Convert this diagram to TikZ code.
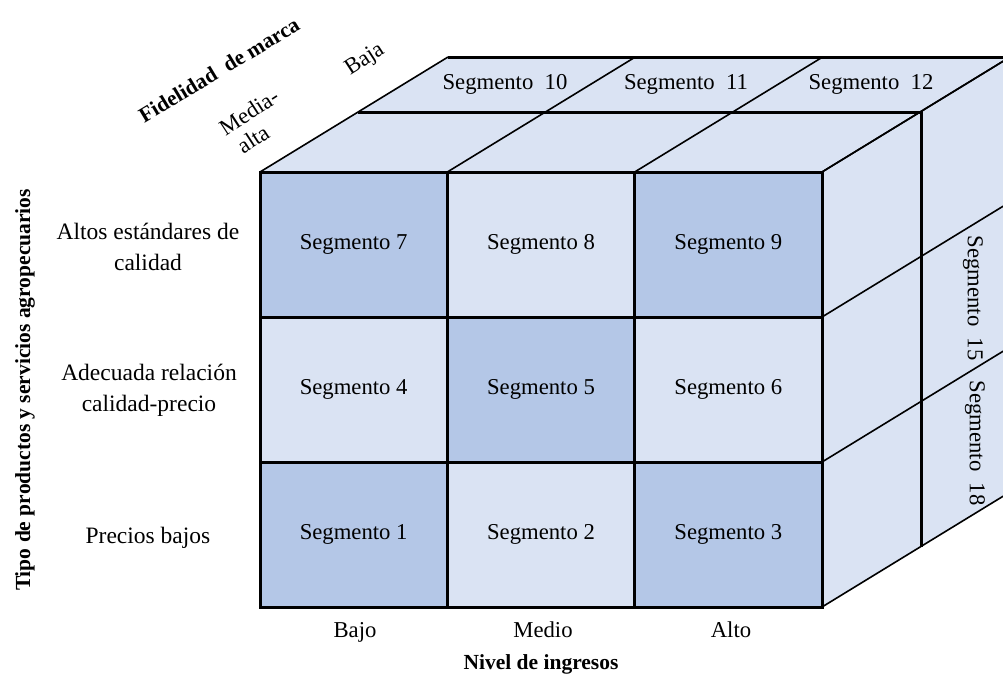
\documentclass[tikz,border=0pt]{standalone}
\usepackage{fontspec}
\setmainfont{Liberation Serif}
\definecolor{segdark}{HTML}{B4C7E7}
\definecolor{seglight}{HTML}{DAE3F3}
\newcommand{\segfont}{\fontsize{22.7}{27}\selectfont}
\newcommand{\rowfont}{\fontsize{23.5}{31}\selectfont}
\newcommand{\boldlab}{\fontsize{21.5}{26}\selectfont\bfseries}
\tikzset{
  cell/.style={draw=black, line width=3pt, minimum width=187.33pt,
    minimum height=145pt, inner sep=0pt, font=\segfont},
  darkcell/.style={cell, fill=segdark},
  lightcell/.style={cell, fill=seglight},
  edge/.style={draw=black, line width=3pt},
  depth/.style={draw=black, line width=1.6pt},
  lab/.style={font=\segfont, inner sep=0pt, align=center},
  rowlab/.style={font=\rowfont, inner sep=0pt, align=center},
}
\begin{document}
\begin{tikzpicture}[x=1pt, y=-1pt]
\useasboundingbox (0,0) rectangle (1003,675);

% top and right faces of the cube
\begin{scope}
  \clip (0,0) rectangle (1003,675);
  \fill[seglight] (260,172) -- (448,57) -- (1010,57) -- (1010,492)
    -- (822,607) -- cycle;
  % depth lines on the top face
  \foreach \x in {260,447.33,634.67,822}
    \draw[depth] (\x,172) -- ++(188,-115);
  % depth lines on the right face
  \foreach \y in {172,317,462,607}
    \draw[depth] (822,\y) -- ++(188,-115);
  % layer boundaries
  \draw[edge] (358,112) -- (921,112) -- (921,547);
  \draw[edge] (448,57) -- (1010,57) -- (1010,492);
\end{scope}

% front face: income level x product type
\node[darkcell]  (s7) at (353.67,244.5) {Segmento 7};
\node[lightcell] (s8) at (541,244.5)    {Segmento 8};
\node[darkcell]  (s9) at (728.33,244.5) {Segmento 9};
\node[lightcell] (s4) at (353.67,389.5) {Segmento 4};
\node[darkcell]  (s5) at (541,389.5)    {Segmento 5};
\node[lightcell] (s6) at (728.33,389.5) {Segmento 6};
\node[darkcell]  (s1) at (353.67,534.5) {Segmento 1};
\node[lightcell] (s2) at (541,534.5)    {Segmento 2};
\node[darkcell]  (s3) at (728.33,534.5) {Segmento 3};

% back layer labels
\node[lab] (s10) at (505,84) {Segmento~~10};
\node[lab] (s11) at (686,84) {Segmento~~11};
\node[lab] (s12) at (871,84) {Segmento~~12};
\node[lab, rotate=-90] (s15) at (973,298) {Segmento~~15};
\node[lab, rotate=-90] (s18) at (975,443) {Segmento~~18};

% row labels
\node[rowlab] (r3) at (148,247) {Altos estándares de\\calidad};
\node[rowlab] (r2) at (149,390) {Adecuada relación\\calidad-precio};
\node[rowlab] (r1) at (148,538) {Precios bajos};
\node[font=\boldlab, rotate=90, inner sep=0pt] (ylab) at (25,390)
  {Tipo de productos y servicios agropecuarios};

% column labels
\node[lab, anchor=base] (c1) at (355,637) {Bajo};
\node[lab, anchor=base] (c2) at (543,637) {Medio};
\node[lab, anchor=base] (c3) at (731,637) {Alto};
\node[font=\boldlab, anchor=base, inner sep=0pt] (xlab) at (541,669)
  {Nivel de ingresos};

% depth labels
\node[font=\boldlab, rotate=31, inner sep=0pt] (zlab) at (219,70)
  {Fidelidad~~de marca};
\node[lab, rotate=33] (zhigha) at (249,112) {Media-};
\node[lab, rotate=33] (zhighb) at (253,139) {alta};
\node[lab, rotate=33] (zlow) at (365,60) {Baja};
\end{tikzpicture}
\end{document}
